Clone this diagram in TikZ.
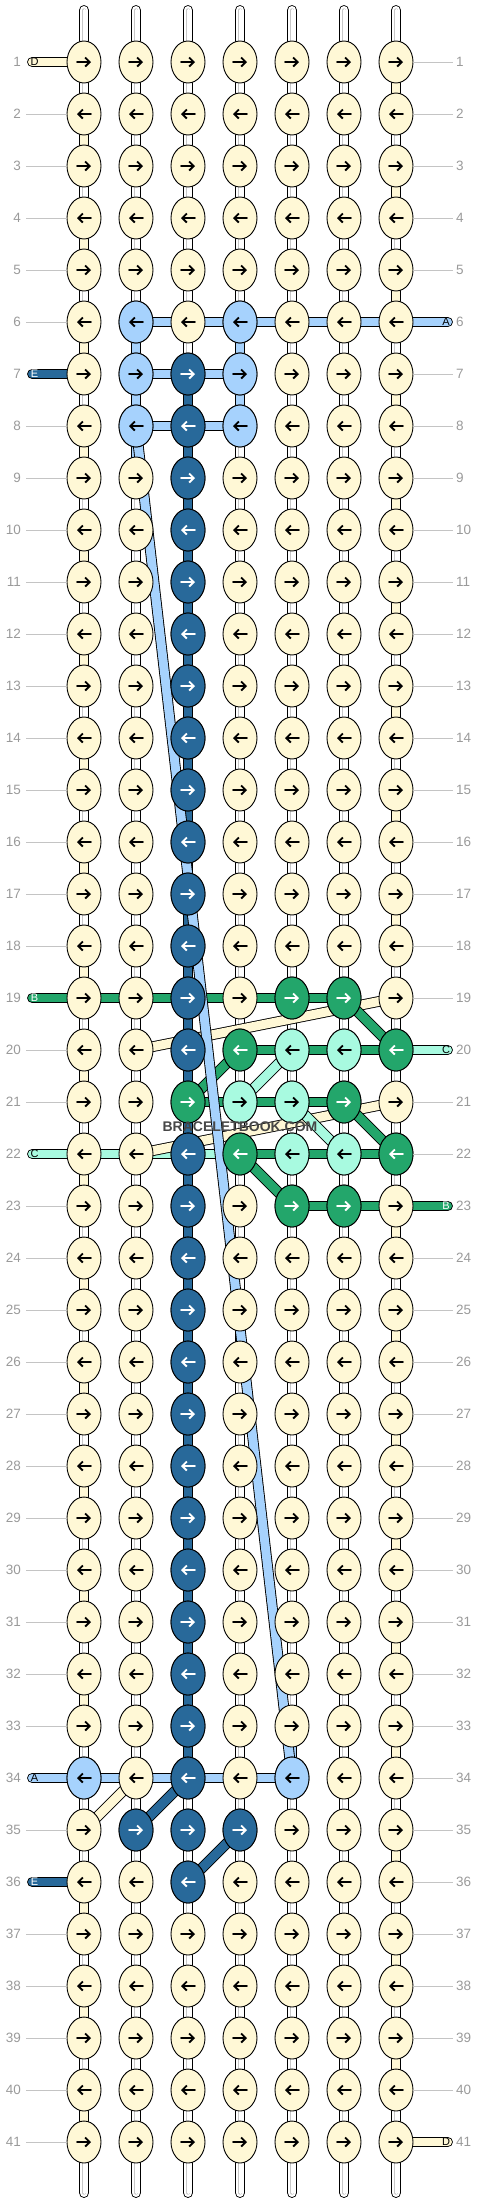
\documentclass[tikz,border=0pt]{standalone}
\usepackage{fontspec}
\setmainfont{Liberation Sans}
\usetikzlibrary{
    positioning,      % Relative positioning
    shapes.geometric, % Ellipse knots
    arrows.meta,      % Arrow tips
    backgrounds       % Threads behind knots
}

\definecolor{thrD}{HTML}{FFF8D6}
\definecolor{thrA}{HTML}{A6D2FD}
\definecolor{thrE}{HTML}{28699A}
\definecolor{thrB}{HTML}{23A66B}
\definecolor{thrC}{HTML}{A8FAE0}
\definecolor{rowgrey}{HTML}{9A9A9A}
\definecolor{linegrey}{HTML}{C4C4C4}

\def\arrcol{black}
\tikzset{
    arrow color/.store in=\arrcol,
    arr/.style={line width=1.9pt, line cap=round, -{Straight Barb[length=4.5pt,width=9pt]}},
    dir 1/.style={path picture={\draw[arr, draw=\arrcol]
        ([xshift=-7pt]path picture bounding box.center) -- ([xshift=7pt]path picture bounding box.center);}},
    dir 0/.style={path picture={\draw[arr, draw=\arrcol]
        ([xshift=7pt]path picture bounding box.center) -- ([xshift=-7pt]path picture bounding box.center);}},
    knot/.style={ellipse, draw, line width=0.9pt, fill=thrD, inner sep=0pt,
        minimum width=34pt, minimum height=42pt},
    knot A/.style={knot, fill=thrA},
    knot B/.style={knot, fill=thrB, arrow color=white},
    knot C/.style={knot, fill=thrC},
    knot E/.style={knot, fill=thrE, arrow color=white},
    hconn/.style={draw=black, line width=0.9pt, double=thrD, double distance=8.9pt},
    warp/.style={draw=black, line width=0.9pt, double=white, double distance=8.9pt,
        postaction={draw=black!22, line width=0.6pt, double=white, double distance=3pt}},
    rownum/.style={text=rowgrey, font=\fontsize{13.5}{14}\selectfont, inner sep=0pt},
    rowline/.style={draw=linegrey, line width=0.9pt},
    pill/.style={draw=black, line width=0.9pt, double distance=8.9pt, line cap=round},
    pilltag/.style={font=\fontsize{11}{11}\selectfont, inner sep=0pt}
}

\begin{document}
\begin{tikzpicture}[x=1pt, y=-1pt]
    \useasboundingbox (0,0) rectangle (480,2204);

    % knots, 41 rows of 7
    \foreach \r in {1,...,41}{
        \pgfmathtruncatemacro\p{mod(\r,2)}
        \foreach \c in {1,...,7}{
            \node[knot, dir \p] (k-\r-\c) at ({84+52*(\c-1)},{62+52*(\r-1)}) {};
        }
    }

    % coloured knots
    \foreach \r/\c/\kc in {6/2/A, 6/4/A, 7/2/A, 7/4/A, 8/2/A, 8/4/A,
            19/5/B, 19/6/B, 20/4/B, 20/5/C, 20/6/C, 20/7/B,
            21/3/B, 21/4/C, 21/5/C, 21/6/B, 22/4/B, 22/5/C, 22/6/C, 22/7/B,
            23/5/B, 23/6/B, 34/1/A, 34/5/A, 35/2/E, 35/4/E}{
        \pgfmathtruncatemacro\p{mod(\r,2)}
        \node[knot \kc, dir \p] (k-\r-\c) at (k-\r-\c) {};
    }
    \foreach \r in {7,...,20,22,23,...,36}{
        \pgfmathtruncatemacro\p{mod(\r,2)}
        \node[knot E, dir \p] (k-\r-3) at (k-\r-3) {};
    }

    \begin{scope}[on background layer]
        % warp strings
        \foreach \c in {1,...,7}{
            \coordinate (top-\c) at ({84+52*(\c-1)},10.4);
            \coordinate (bot-\c) at ({84+52*(\c-1)},2192.6);
            \draw[warp, line cap=round] (top-\c) -- (k-1-\c.center);
            \draw[warp, line cap=round] (bot-\c) -- (k-41-\c.center);
            \foreach \r [evaluate=\r as \rn using int(\r+1)] in {1,...,40}
                \draw[warp] (k-\r-\c.center) -- (k-\rn-\c.center);
        }
        % turns at the edges
        \foreach \r in {1,...,18,20,22,23,...,33,35,36,...,40}{
            \pgfmathtruncatemacro\rn{\r+1}
            \pgfmathtruncatemacro\c{1+6*mod(\r,2)}
            \draw[hconn] (k-\r-\c.center) -- (k-\rn-\c.center);
        }
        % coloured warps
        \foreach \r/\c/\col in {6/2/thrA, 7/2/thrA, 8/2/thrA, 6/4/thrA, 7/4/thrA, 33/5/thrA}{
            \pgfmathtruncatemacro\rn{\r+1}
            \draw[hconn, double=\col] (k-\r-\c.center) -- (k-\rn-\c.center);
        }
        \foreach \r [evaluate=\r as \rn using int(\r+1)] in {7,...,33}
            \draw[hconn, double=thrE] (k-\r-3.center) -- (k-\rn-3.center);

        % rows
        \foreach \r in {1,...,41}
            \foreach \c [evaluate=\c as \cn using int(\c+1)] in {1,...,6}
                \draw[hconn] (k-\r-\c.center) -- (k-\r-\cn.center);
        \foreach \r/\c/\col in {6/2/thrA, 6/3/thrA, 6/4/thrA, 6/5/thrA, 6/6/thrA,
                7/2/thrA, 7/3/thrA, 8/2/thrA, 8/3/thrA,
                19/1/thrB, 19/2/thrB, 19/3/thrB, 19/4/thrB, 19/5/thrB,
                20/4/thrB, 20/5/thrB, 20/6/thrB,
                21/3/thrB, 21/4/thrB, 21/5/thrB,
                22/1/thrC, 22/2/thrC, 22/3/thrC, 22/4/thrB, 22/5/thrB, 22/6/thrB,
                23/5/thrB, 23/6/thrB,
                34/1/thrA, 34/2/thrA, 34/3/thrA, 34/4/thrA}{
            \pgfmathtruncatemacro\cn{\c+1}
            \draw[hconn, double=\col] (k-\r-\c.center) -- (k-\r-\cn.center);
        }

        % loose ends
        \foreach \r/\col/\tag/\tcol in {1/thrD/D/black, 7/thrE/E/white, 19/thrB/B/white,
                22/thrC/C/black, 34/thrA/A/black, 36/thrE/E/white}{
            \coordinate (endL-\r) at (32.4,{62+52*(\r-1)});
            \draw[pill, double=\col] (endL-\r) -- (k-\r-1.center);
            \node[pilltag, text=\tcol] (tagL-\r) at (34.5,{62+52*(\r-1)}) {\tag};
        }
        \foreach \r/\col/\tag/\tcol in {6/thrA/A/black, 20/thrC/C/black,
                23/thrB/B/white, 41/thrD/D/black}{
            \coordinate (endR-\r) at (447.6,{62+52*(\r-1)});
            \draw[pill, double=\col] (endR-\r) -- (k-\r-7.center);
            \node[pilltag, text=\tcol] (tagR-\r) at (446,{62+52*(\r-1)}) {\tag};
        }

        % floats between knots
        \foreach \a/\b/\col in {19-7/20-2/thrD, 21-7/22-2/thrD, 34-2/35-1/thrD,
                19-6/20-7/thrB, 21-3/20-4/thrB, 21-6/22-7/thrB, 22-4/23-5/thrB,
                21-4/20-5/thrC, 21-5/22-6/thrC,
                34-3/35-2/thrE, 35-4/36-3/thrE, 8-2/34-5/thrA}
            \draw[hconn, double=\col] (k-\a.center) -- (k-\b.center);
    \end{scope}

    % row numbers
    \foreach \r in {1,...,41}{
        \node[rownum, anchor=east] (numL-\r) at (21,{62+52*(\r-1)}) {\r};
        \node[rownum, anchor=west] (numR-\r) at (456,{62+52*(\r-1)}) {\r};
    }
    \foreach \r in {2,...,6,8,9,...,18,20,21,23,24,...,33,35,37,38,...,41}{
        \coordinate (lineL-\r) at (26,{62+52*(\r-1)});
        \draw[rowline] (lineL-\r) -- (k-\r-1.west);
    }
    \foreach \r in {1,...,5,7,8,...,19,21,22,24,25,...,40}{
        \coordinate (lineR-\r) at (453,{62+52*(\r-1)});
        \draw[rowline] (k-\r-7.east) -- (lineR-\r);
    }

    \node[font=\bfseries\fontsize{14}{14}\selectfont, text=black!72] (mark) at (240,1127) {BRACELETBOOK.COM};
\end{tikzpicture}
\end{document}
